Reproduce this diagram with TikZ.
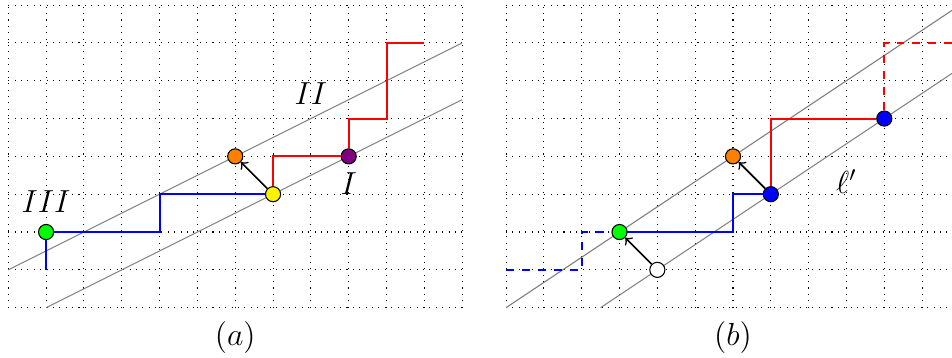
\documentclass[tikz,border=0pt]{standalone}
\usepackage{amsmath}
\definecolor{mypurple}{RGB}{128,0,128}
\definecolor{mygreen}{RGB}{0,255,0}
\definecolor{myorange}{RGB}{255,128,0}
\begin{document}
\begin{tikzpicture}[x=0.5cm,y=0.5cm,
  gridl/.style={dotted,line width=0.4pt,step=0.5cm},
  diag/.style={gray,line width=0.4pt},
  bpath/.style={blue,line width=0.75pt},
  rpath/.style={red,line width=0.75pt},
  pt/.style={circle,draw=black,line width=0.4pt,inner sep=0pt,minimum size=0.2cm},
  arr/.style={->,line width=0.6pt},
  lab/.style={font=\fontsize{11.5}{13}\selectfont,inner sep=0pt}]
\useasboundingbox (-0.219,-1.33) rectangle (24.95,8.134);
\clip (-0.219,-1.33) rectangle (24.95,8.134);
% ---------- panel (a)
\begin{scope}
\draw[gridl] (0,0) grid (12,8);
\draw[diag] (0,1) -- (12,7);
\draw[diag] (1,0) -- (12,5.5);
\node[pt,fill=mygreen] (ag) at (1,2) {};
\node[pt,fill=yellow] (ay) at (7,3) {};
\node[pt,fill=myorange] (ao) at (6,4) {};
\node[pt,fill=mypurple] (ap) at (9,4) {};
\coordinate (ab0) at (1,1);
\coordinate (ar1) at (11,7);
\draw[bpath] (ab0) -- (ag.south);
\draw[bpath] (ag.east) -- (4,2) -- (4,3) -- (ay.west);
\draw[rpath] (ay.north) -- (7,4) -- (ap.west);
\draw[rpath] (ap.north) -- (9,5) -- (10,5) -- (10,7) -- (ar1);
\draw[arr] (ay) -- (ao);
\node[lab] (lII) at (8,5.67) {$II$};
\node[lab] (lI) at (9,3.29) {$I$};
\node[lab] (lIII) at (1,2.8) {$III$};
\node[lab] (la) at (6,-0.8) {$(a)$};
\end{scope}
% ---------- panel (b)
\begin{scope}[shift={(13.16,0)}]
\draw[gridl] (0,0) grid (12,8);
\draw[diag] (0,0) -- (12,8);
\draw[diag] (2.5,0) -- (12,6.3333);
\node[pt,fill=mygreen] (bg) at (3,2) {};
\node[pt,fill=white] (bw) at (4,1) {};
\node[pt,fill=blue] (bb1) at (7,3) {};
\node[pt,fill=myorange] (bo) at (6,4) {};
\node[pt,fill=blue] (bb2) at (10,5) {};
\coordinate (bd0) at (0,1);
\coordinate (rd1) at (12,7);
\draw[bpath,dashed] (bd0) -- (2,1) -- (2,2) -- (bg.west);
\draw[bpath] (bg.east) -- (6,2) -- (6,3) -- (bb1.west);
\draw[rpath] (bb1.north) -- (7,5) -- (bb2.west);
\draw[rpath,dashed] (bb2.north) -- (10,7) -- (rd1);
\draw[arr] (bw) -- (bg);
\draw[arr] (bb1) -- (bo);
\node[lab] (lell) at (9,3.33) {$\ell'$};
\node[lab] (lb) at (6,-0.8) {$(b)$};
\end{scope}
\end{tikzpicture}
\end{document}
